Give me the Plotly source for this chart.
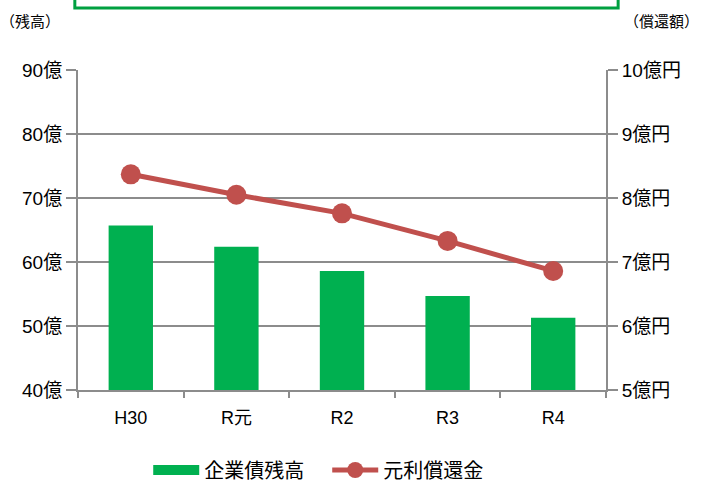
import plotly.graph_objects as go

years = ["H30", "R元", "R2", "R3", "R4"]
balance = [65.7, 62.4, 58.6, 54.7, 51.3]        # 企業債残高 (億)
repayment = [8.37, 8.05, 7.76, 7.33, 6.86]      # 元利償還金 (億円)

left_ticks = [40, 50, 60, 70, 80, 90]
left_labels = ["40億", "50億", "60億", "70億", "80億", "90億"]
right_ticks = [5, 6, 7, 8, 9, 10]
right_labels = ["5億円", "6億円", "7億円", "8億円", "9億円", "10億円"]

font = "Liberation Sans, Noto Sans CJK JP, sans-serif"
axis_grey = "#8c8c8c"
green = "#00B050"

fig = go.Figure()
fig.add_bar(x=years, y=balance, name="企業債残高", marker_color=green,
            marker_line_width=0, width=0.42, showlegend=False)
# legend entry drawn as a wide block, like the original
fig.add_scatter(x=[None], y=[None], name="企業債残高", mode="lines",
                line=dict(color=green, width=16))
fig.add_scatter(x=years, y=repayment, name="元利償還金", yaxis="y2",
                mode="lines+markers",
                line=dict(color="#C0504D", width=5),
                marker=dict(size=20, color="#C0504D"))

fig.update_layout(
    width=704, height=485,
    margin=dict(l=78, r=98, t=70, b=95, autoexpand=False),
    paper_bgcolor="white", plot_bgcolor="white",
    font=dict(family=font, size=19, color="#000"),
    showlegend=True,
    legend=dict(orientation="h", x=0.133, xanchor="left", yref="paper",
                y=-0.25, yanchor="middle", font=dict(size=20), itemwidth=46,
                entrywidth=118, traceorder="normal"),
    xaxis=dict(type="category", showline=True, linecolor=axis_grey, linewidth=2,
               ticks="outside", tickson="boundaries", tickcolor=axis_grey,
               ticklen=6, tickwidth=2, showgrid=False, automargin=False,
               ticklabelstandoff=10, tickfont=dict(size=18)),
    yaxis=dict(range=[40, 90], tickvals=left_ticks, ticktext=left_labels,
               showline=True, linecolor=axis_grey, linewidth=2,
               ticks="outside", tickcolor=axis_grey, ticklen=10, tickwidth=2,
               showgrid=True, gridcolor=axis_grey, gridwidth=1.5,
               zeroline=False, automargin=False),
    yaxis2=dict(range=[5, 10], tickvals=right_ticks, ticktext=right_labels,
                overlaying="y", side="right",
                showline=True, linecolor=axis_grey, linewidth=2,
                ticks="outside", tickcolor=axis_grey, ticklen=10, tickwidth=2,
                showgrid=False, zeroline=False, automargin=False),
    bargap=0.58,
)

fig.add_annotation(text="（残高）", xref="paper", yref="paper", x=-0.152, y=1.152,
                   xanchor="left", yanchor="middle", showarrow=False,
                   font=dict(size=15))
fig.add_annotation(text="（償還額）", xref="paper", yref="paper", x=1.18, y=1.152,
                   xanchor="right", yanchor="middle", showarrow=False,
                   font=dict(size=15))

# green frame cut off at the top of the image
fig.add_shape(type="rect", xref="paper", yref="paper",
              x0=-0.006, x1=1.023, y0=1.194, y1=1.35,
              line=dict(color="#00A040", width=3))

fig.write_html("out.html", config={"displayModeBar": False},
               post_script="document.body.style.margin='0';")
